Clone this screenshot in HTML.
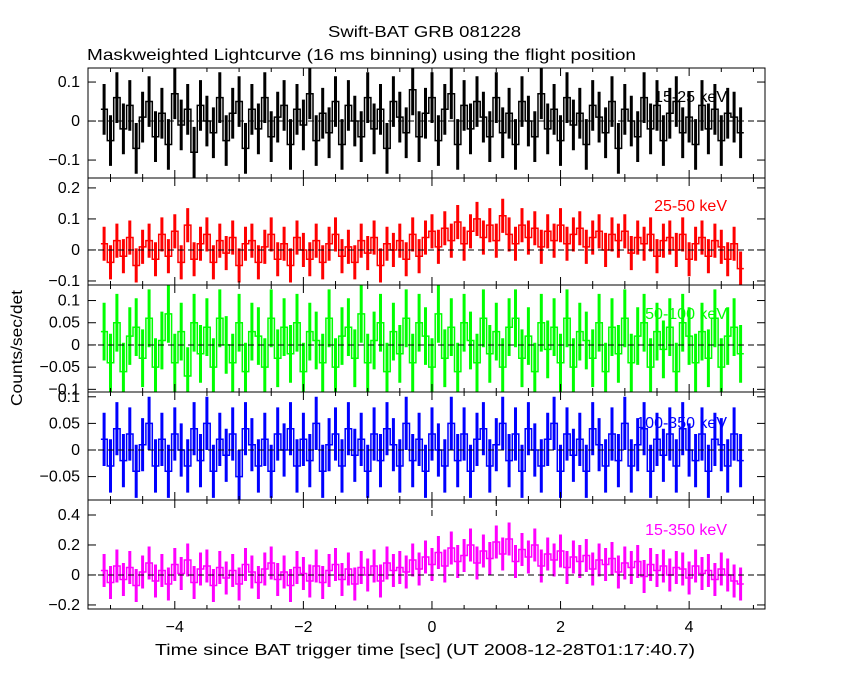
<!DOCTYPE html>
<html><head><meta charset="utf-8"><style>
body{margin:0;background:#fff;}
svg text{font-family:"Liberation Sans",sans-serif;font-size:16px;}
</style></head><body>
<svg id="chart" width="850" height="680" xmlns="http://www.w3.org/2000/svg">
<rect width="850" height="680" fill="#fff"/>
<text x="328" y="37" textLength="193" lengthAdjust="spacingAndGlyphs">Swift-BAT GRB 081228</text>
<text x="87" y="60" textLength="549" lengthAdjust="spacingAndGlyphs">Maskweighted Lightcurve (16 ms binning) using the flight position</text>
<text x="155" y="655" textLength="540" lengthAdjust="spacingAndGlyphs">Time since BAT trigger time [sec] (UT 2008-12-28T01:17:40.7)</text>
<text transform="translate(22,348) rotate(-90)" text-anchor="middle" textLength="116" lengthAdjust="spacingAndGlyphs">Counts/sec/det</text>
<g id="panels"></g>
</svg>
<script>
const tStart = -5.15, tStep = 0.1;
const bandLabels = ["15-25 keV","25-50 keV","50-100 keV","100-350 keV","15-350 keV"];
const bandColors = ["#000000","#ff0000","#00ff00","#0000ff","#ff00ff"];
const yTicks1 = [-0.1,0,0.1];
const yTicks2 = [-0.1,0,0.1,0.2];
const yTicks3 = [-0.1,-0.05,0,0.05,0.1];
const yTicks4 = [-0.05,0,0.05,0.1];
const yTicks5 = [-0.2,0,0.2,0.4];
const xTicks = [-4,-2,0,2,4];
const errs = [0.065,0.055,0.065,0.05,0.11];
const s1 = [0.03,-0.05,0.06,-0.02,0.04,-0.07,0.01,0.05,-0.04,0.02,-0.06,0.07,-0.01,0.03,-0.08,0.04,0.00,-0.03,0.06,-0.05,0.02,0.05,-0.07,0.03,-0.02,0.06,-0.04,0.01,0.04,-0.06,0.03,-0.01,0.07,-0.05,0.02,-0.03,0.05,-0.06,0.04,0.00,-0.04,0.06,-0.02,0.03,-0.07,0.05,0.01,-0.03,0.08,-0.04,0.02,0.06,-0.05,0.03,0.07,-0.06,0.04,-0.02,0.05,0.01,-0.04,0.06,-0.03,0.02,-0.06,0.05,0.00,-0.04,0.07,-0.02,0.03,-0.05,0.06,-0.01,0.02,-0.06,0.04,0.01,-0.03,0.05,-0.07,0.03,0.00,-0.04,0.06,-0.02,0.04,-0.05,0.02,0.05,-0.03,0.01,-0.06,0.04,-0.02,0.03,-0.05,0.02,0.01,-0.03];
const s2 = [0.02,-0.04,0.03,-0.02,0.04,-0.05,0.01,0.03,-0.03,0.05,-0.02,0.06,-0.04,0.08,-0.03,0.02,0.05,-0.04,0.03,-0.01,0.04,-0.05,0.02,0.03,-0.04,0.01,0.05,-0.03,0.02,-0.05,0.04,0.00,-0.03,0.03,-0.04,0.02,0.05,-0.02,0.01,-0.04,0.03,-0.01,0.04,-0.05,0.02,0.00,0.03,-0.03,0.05,-0.02,0.04,0.06,0.01,0.07,0.03,0.09,0.02,0.06,0.10,0.04,0.08,0.03,0.11,0.05,0.02,0.08,0.04,0.07,0.01,0.06,0.03,0.08,0.02,0.05,0.07,0.01,0.04,0.06,0.00,0.05,0.03,0.06,-0.01,0.04,0.02,0.05,-0.02,0.03,0.04,0.00,0.05,-0.03,0.02,0.04,-0.02,0.03,0.01,-0.03,0.02,-0.06];
const s3 = [0.03,-0.04,0.05,-0.06,0.02,0.04,-0.03,0.06,-0.05,0.01,0.07,-0.04,0.03,-0.07,0.05,-0.02,0.04,-0.05,0.06,0.00,-0.04,0.05,-0.06,0.03,0.02,-0.05,0.06,-0.03,0.04,-0.02,0.05,-0.06,0.03,0.01,-0.04,0.06,-0.05,0.02,0.04,-0.03,0.07,-0.04,0.01,0.05,-0.06,0.03,-0.02,0.06,-0.04,0.05,0.02,-0.05,0.07,-0.03,0.04,-0.06,0.05,0.01,-0.04,0.06,-0.02,0.03,-0.05,0.04,0.06,-0.03,0.02,-0.06,0.05,-0.01,0.04,-0.04,0.06,-0.05,0.03,0.01,-0.03,0.05,-0.06,0.04,-0.02,0.06,-0.04,0.02,0.05,-0.05,0.03,-0.01,0.04,-0.06,0.05,0.02,-0.04,0.03,-0.03,0.06,-0.05,0.02,0.04,-0.02];
const s4 = [0.02,-0.03,0.04,-0.02,0.03,-0.04,0.01,0.05,-0.03,0.02,-0.04,0.03,0.00,-0.03,0.04,-0.02,0.05,-0.04,0.02,-0.01,0.03,-0.05,0.04,0.01,-0.03,0.02,-0.04,0.03,0.00,0.04,-0.03,0.02,-0.02,0.05,-0.04,0.01,0.03,-0.03,0.04,-0.01,0.02,-0.04,0.03,-0.02,0.04,0.01,-0.03,0.05,-0.02,0.02,-0.04,0.03,0.00,-0.03,0.05,-0.02,0.03,-0.04,0.02,0.04,-0.03,0.01,0.05,-0.02,0.03,-0.04,0.04,0.00,-0.03,0.02,0.05,-0.04,0.03,-0.01,0.02,-0.04,0.04,0.01,-0.03,0.03,-0.02,0.05,-0.03,0.01,0.04,-0.04,0.02,-0.01,0.03,-0.03,0.04,0.00,-0.02,0.03,-0.04,0.02,0.01,-0.03,0.03,-0.02];
const s5 = [0.03,-0.05,0.06,-0.03,0.05,-0.07,0.02,0.08,-0.04,0.03,-0.06,0.07,0.01,0.10,-0.05,0.04,0.06,-0.07,0.05,-0.02,0.03,-0.06,0.07,0.02,-0.05,0.04,0.08,-0.03,0.02,-0.07,0.05,0.01,-0.04,0.06,-0.05,0.03,0.07,-0.03,0.04,-0.06,0.05,0.00,0.06,-0.04,0.08,0.03,0.05,0.02,0.10,0.04,0.12,0.07,0.15,0.06,0.18,0.09,0.13,0.20,0.08,0.16,0.11,0.22,0.14,0.24,0.09,0.17,0.12,0.20,0.06,0.14,0.10,0.16,0.05,0.12,0.09,0.13,0.04,0.10,0.07,0.11,0.02,0.08,0.05,0.09,-0.01,0.07,0.03,0.06,0.00,0.05,0.04,-0.02,0.06,0.01,0.03,-0.03,0.04,0.00,-0.04,-0.06];
const series = [s1,s2,s3,s4,s5];
const yTickSets = [yTicks1,yTicks2,yTicks3,yTicks4,yTicks5];
const tickFmt = [["−0.1","0","0.1"],["−0.1","0","0.1","0.2"],["−0.1","−0.05","0","0.05","0.1"],["−0.05","0","0.05","0.1"],["−0.2","0","0.2","0.4"]];

const X0=88, X1=765, xmin=-5.35, xmax=5.18;
const xs = v => X0 + (v - xmin)/(xmax - xmin)*(X1 - X0);
const panelTop=[68,178,285,392,500], panelBot=[178,285,392,500,609];
const yRanges=[[-0.146,0.136],[-0.113,0.232],[-0.106,0.135],[-0.094,0.109],[-0.227,0.5]];
const NS="http://www.w3.org/2000/svg";
const root=document.getElementById('panels');
function mk(tag, attrs, parent){const e=document.createElementNS(NS,tag);for(const k in attrs)e.setAttribute(k,attrs[k]);(parent||root).appendChild(e);return e;}

for(let p=0;p<5;p++){
  const top=panelTop[p], bot=panelBot[p], [ymin,ymax]=yRanges[p];
  const ys = v => bot - (v - ymin)/(ymax - ymin)*(bot - top);
  const g=mk('g',{});
  
  
  const clipId='c'+p;
  const cp=mk('clipPath',{id:clipId},g); mk('rect',{x:X0,y:top,width:X1-X0,height:bot-top},cp);
  const dg=mk('g',{'clip-path':'url(#'+clipId+')'},g);
  const data=series[p], col=bandColors[p], er=errs[p];
  let d='', e='';
  for(let i=0;i<data.length;i++){
    const a=xs(tStart+i*tStep), b=xs(tStart+(i+1)*tStep), y=ys(data[i]);
    d+=(i===0?'M':'L')+a.toFixed(1)+','+y.toFixed(1)+'L'+b.toFixed(1)+','+y.toFixed(1);
    const xm=((a+b)/2).toFixed(1);
    e+='M'+xm+','+ys(data[i]+er).toFixed(1)+'L'+xm+','+ys(data[i]-er).toFixed(1);
  }
  const eb=mk('path',{d:e,stroke:col,'stroke-width':3,fill:'none'},dg);
  
  
  const path=mk('path',{d:d,stroke:col,'stroke-width':1.5,fill:'none'},dg);
  
  
  mk('line',{x1:X0,x2:X1,y1:ys(0),y2:ys(0),stroke:'#000','stroke-dasharray':'6,4','stroke-width':1},dg);
  if(p===4){
    mk('line',{x1:xs(0),x2:xs(0),y1:top,y2:top+20,stroke:'#000','stroke-dasharray':'6,4'},dg);
    mk('line',{x1:xs(1.0),x2:xs(1.0),y1:top,y2:top+20,stroke:'#000','stroke-dasharray':'6,4'},dg);
  }
  mk('rect',{x:X0,y:top,width:X1-X0,height:bot-top,fill:'none',stroke:'#000','stroke-width':1},g);
  yTickSets[p].forEach((v,k)=>{
    const y=ys(v);
    mk('line',{x1:X0,x2:X0+8,y1:y,y2:y,stroke:'#000'},g);
    mk('line',{x1:X1,x2:X1-8,y1:y,y2:y,stroke:'#000'},g);
    const t=mk('text',{x:X0-8,y:y+5,'text-anchor':'end'},g); t.textContent=tickFmt[p][k];
    
    
  });
  for(let v=-5;v<=5.01;v+=0.5){
    const major=Math.abs(v%2)<1e-6, len=major?8:4, x=xs(v);
    mk('line',{x1:x,x2:x,y1:bot,y2:bot-len,stroke:'#000'},g);
    mk('line',{x1:x,x2:x,y1:top,y2:top+len,stroke:'#000'},g);
  }
  const lb=mk('text',{x:727,y:top+(p===0?34:p===1?33:p===2?34:p===3?36:35),'text-anchor':'end',fill:col},g);
  lb.textContent=bandLabels[p];
  
  
}
xTicks.forEach(v=>{
  const t=mk('text',{x:xs(v),y:632,'text-anchor':'middle'});
  t.textContent=(v<0?'−':'')+Math.abs(v);
  
  
});
</script>
</body></html>
